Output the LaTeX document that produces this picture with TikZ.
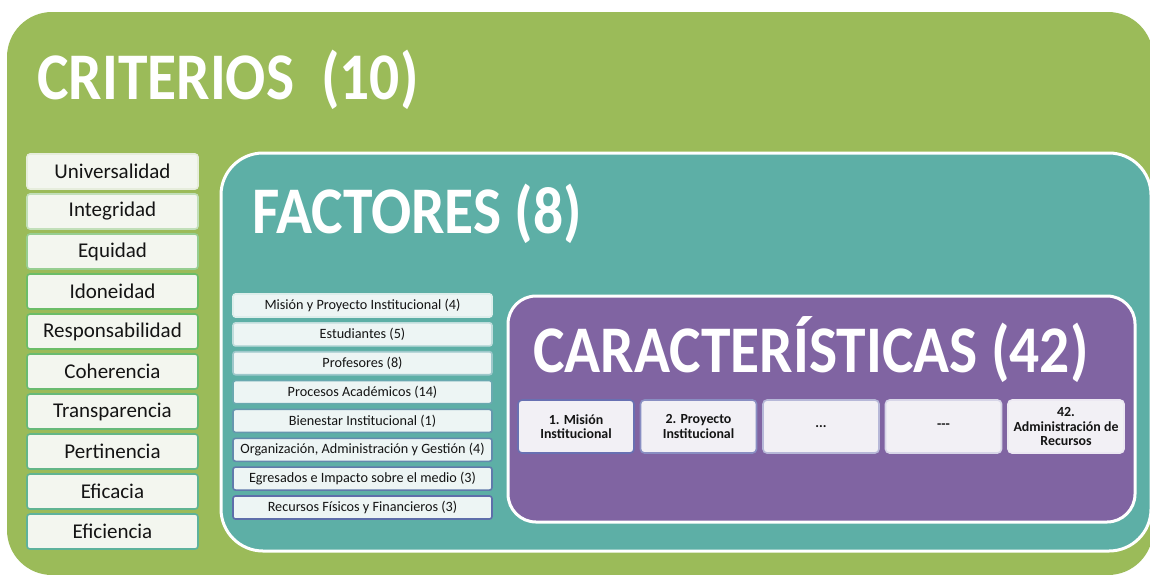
\documentclass[tikz,border=0pt]{standalone}
\usepackage{fontspec}
\setmainfont{Carlito}
\definecolor{cgreen}{HTML}{9BBB59}
\definecolor{cteal}{HTML}{5DAFA6}
\definecolor{cpurple}{HTML}{8064A2}
\definecolor{critfill}{HTML}{F3F6EF}
\definecolor{factfill}{HTML}{EDF5F4}
\definecolor{carfill}{HTML}{F2F0F5}
\definecolor{bA}{HTML}{E6EDDC}
\definecolor{bB}{HTML}{6BBD68}
\definecolor{bC}{HTML}{5DB29C}
\definecolor{fA}{HTML}{DDEEEB}
\definecolor{fB}{HTML}{6AA9B0}
\definecolor{fC}{HTML}{5E6EAA}
\definecolor{kA}{HTML}{6870B2}
\definecolor{kB}{HTML}{ECE8F2}
\newcommand{\ttl}[1]{\scalebox{1}[1.12]{#1}}
\begin{document}
\begin{tikzpicture}[x=1pt,y=-1pt,
  title/.style={anchor=base west,inner sep=0pt,text=white,font=\fontsize{59.5}{62}\selectfont\bfseries},
  critbox/.style={draw=#1,line width=1.6pt,fill=critfill,rounded corners=3pt,minimum width=171pt,minimum height=35pt,inner sep=0pt,font=\fontsize{21}{24}\selectfont,text=black!92},
  factbox/.style={draw=#1,line width=1.6pt,fill=factfill,rounded corners=2.5pt,minimum width=259pt,minimum height=23pt,inner sep=0pt,font=\fontsize{14.2}{16}\selectfont,text=black!92},
  carbox/.style={draw=#1,line width=1.6pt,fill=carfill,rounded corners=4pt,minimum width=116pt,minimum height=53pt,inner sep=0pt,align=center,font=\fontsize{13.9}{14.5}\selectfont\bfseries,text=black!92}]
\useasboundingbox (0,0) rectangle (1150,574);
\clip (0,0) rectangle (1150,574);
\fill[white] (0,0) rectangle (1150,574);
% containers
\fill[cgreen,rounded corners=45pt] (7,12) rectangle (1153,575);
\draw[fill=cteal,draw=white,line width=3pt,rounded corners=42pt] (221,153) rectangle (1151,551);
\draw[fill=cpurple,draw=white,line width=3pt,rounded corners=28pt] (508,296) rectangle (1135,522);
% titles
\node[title] (tcrit) at (37,99) {\ttl{CRITERIOS\ \ (10)}};
\node[title] (tfact) at (252,233) {\ttl{FACTORES (8)}};
\node[title] (tcar) at (533,372) {\ttl{CARACTERÍSTICAS (42)}};
% criterios
\node[critbox=bA!100] (c1) at (112.5,171.5) {Universalidad};
\node[critbox=bA!70!bB] (c2) at (112.5,211.5) {Integridad};
\node[critbox=bA!35!bB] (c3) at (112.5,251.5) {Equidad};
\node[critbox=bB] (c4) at (112.5,291.5) {Idoneidad};
\node[critbox=bB] (c5) at (112.5,331.5) {Responsabilidad};
\node[critbox=bB!85!bC] (c6) at (112.5,371.5) {Coherencia};
\node[critbox=bB!65!bC] (c7) at (112.5,411.5) {Transparencia};
\node[critbox=bB!40!bC] (c8) at (112.5,451.5) {Pertinencia};
\node[critbox=bB!20!bC] (c9) at (112.5,491.5) {Eficacia};
\node[critbox=bC] (c10) at (112.5,531.5) {Eficiencia};
% factores
\node[factbox=fA] (f1) at (362.5,305.5) {Misión y Proyecto Institucional (4)};
\node[factbox=fA!75!fB] (f2) at (362.5,334.4) {Estudiantes (5)};
\node[factbox=fA!45!fB] (f3) at (362.5,363.2) {Profesores (8)};
\node[factbox=fB] (f4) at (362.5,392.1) {Procesos Académicos (14)};
\node[factbox=fB!70!fC] (f5) at (362.5,420.9) {Bienestar Institucional (1)};
\node[factbox=fB!45!fC] (f6) at (362.5,449.8) {Organización, Administración y Gestión (4)};
\node[factbox=fB!20!fC] (f7) at (362.5,478.6) {Egresados e Impacto sobre el medio (3)};
\node[factbox=fC] (f8) at (362.5,507.5) {Recursos Físicos y Financieros (3)};
% caracteristicas
\node[carbox=kA] (k1) at (576,426.5) {1. Misión\\Institucional};
\node[carbox=kA!75!kB] (k2) at (698.5,426.5) {2. Proyecto\\Institucional};
\node[carbox=kA!40!kB] (k3) at (821,426.5) {...};
\node[carbox=kA!15!kB] (k4) at (943.5,426.5) {{-}{-}{-}};
\node[carbox=kB] (k5) at (1066,426.5) {42.\\Administración de\\Recursos};
\end{tikzpicture}
\end{document}
